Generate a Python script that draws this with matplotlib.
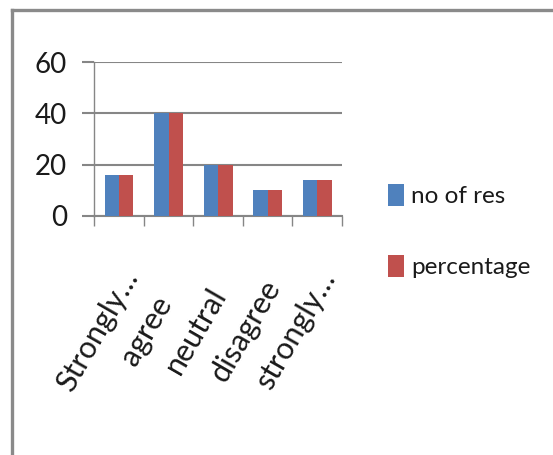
import matplotlib.pyplot as plt
import matplotlib.transforms as mtransforms
from matplotlib.lines import Line2D
import numpy as np

# survey answers
categories = ['Strongly…', 'agree', 'neutral', 'disagree', 'strongly…']
no_of_res = [16, 40, 20, 10, 14]
percentage = [16, 40, 20, 10, 14]
series_names = ['no of res', 'percentage']
y_ticks = [0, 20, 40, 60]

blue = '#4f81bd'
red = '#c0504d'
grid_gray = '#868686'

plt.rcParams['font.family'] = ['Lato', 'DejaVu Sans']

fig = plt.figure(figsize=(5.53, 4.55), dpi=100)
fig.patch.set_facecolor('white')

# grey frame along the top and left edge
fig.add_artist(Line2D([11.5 / 553, 1], [1 - 9.5 / 455, 1 - 9.5 / 455],
                      color='#8a8a8a', linewidth=2.4, transform=fig.transFigure))
fig.add_artist(Line2D([11.5 / 553, 11.5 / 553], [0, 1 - 9.5 / 455],
                      color='#8a8a8a', linewidth=2.4, transform=fig.transFigure))

ax = fig.add_axes([94.3 / 553, 1 - 215.7 / 455, 247.7 / 553, 153.4 / 455])

x = np.arange(len(categories))
w = 0.29
ax.bar(x - w / 2, no_of_res, w, color=blue, label=series_names[0], zorder=3)
ax.bar(x + w / 2, percentage, w, color=red, label=series_names[1], zorder=3)

ax.set_xlim(-0.5, len(categories) - 0.5)
ax.set_ylim(0, 60)
ax.set_yticks(y_ticks)
ax.yaxis.grid(True, color=grid_gray, linewidth=1.5, zorder=0)

for side in ['top', 'right']:
    ax.spines[side].set_visible(False)
ax.spines['left'].set_color(grid_gray)
ax.spines['left'].set_linewidth(1.0)
ax.spines['bottom'].set_color(grid_gray)
ax.spines['bottom'].set_linewidth(1.5)

ax.tick_params(axis='y', length=8.6, width=1.5, color=grid_gray,
               pad=11, labelsize=20, labelcolor='#1a1a1a')

# boundary ticks between categories, labels at the centres
ax.set_xticks(x)
ax.set_xticks(np.arange(len(categories) + 1) - 0.5, minor=True)
ax.tick_params(axis='x', which='minor', length=7, width=1.0, color=grid_gray)
ax.tick_params(axis='x', which='major', length=0, pad=0)
ax.set_xticklabels(categories, rotation=60, ha='center', va='center',
                   fontsize=22, color='#1a1a1a')
shift = mtransforms.ScaledTranslation(-0.22, -1.15, fig.dpi_scale_trans)
for lbl in ax.get_xticklabels():
    lbl.set_transform(lbl.get_transform() + shift)

fig.legend(loc='center left', bbox_to_anchor=(378 / 553, 1 - 231 / 455),
           frameon=False, fontsize=17.5, handlelength=0.66, handleheight=1.05,
           handletextpad=0.3, labelspacing=1.95, borderaxespad=0,
           labelcolor='#1a1a1a')

plt.savefig('out.png', dpi=100)
